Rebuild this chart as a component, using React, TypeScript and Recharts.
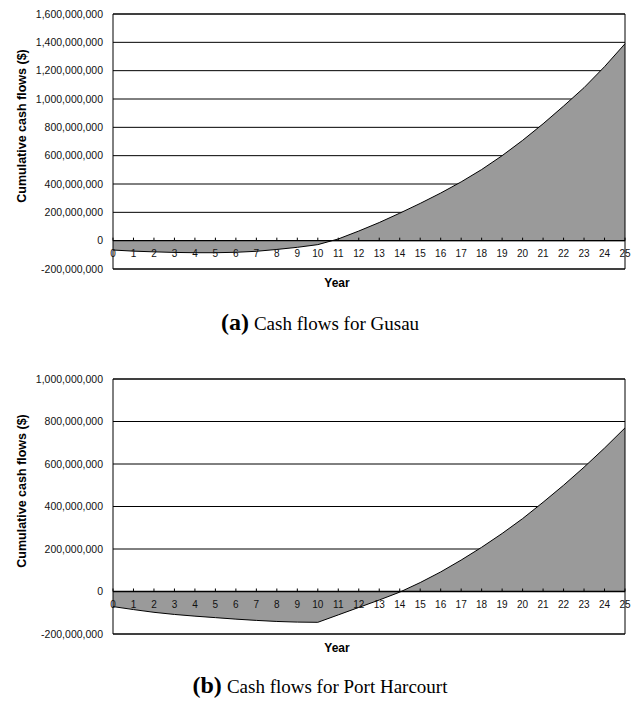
import React from 'react';
import { AreaChart, Area, XAxis, YAxis, CartesianGrid, ReferenceLine, ReferenceArea, Label } from 'recharts';

// ---- Data ----
const years = [0, 1, 2, 3, 4, 5, 6, 7, 8, 9, 10, 11, 12, 13, 14, 15, 16, 17, 18, 19, 20, 21, 22, 23, 24, 25];

const gusauCumulative = [
  -66000000, -74000000, -79000000, -83000000, -85000000, -85000000, -82000000, -75000000, -62000000, -47000000,
  -28000000, 12000000, 68000000, 128000000, 194000000, 263000000, 336000000, 415000000, 502000000, 600000000,
  708000000, 825000000, 950000000, 1080000000, 1228000000, 1390000000,
];

const portHarcourtCumulative = [
  -71000000, -85000000, -98000000, -108000000, -116000000, -123000000, -130000000, -136000000, -141000000, -144000000,
  -145000000, -110000000, -75000000, -40000000, -3000000, 42000000, 92000000, 148000000, 208000000, 273000000,
  343000000, 420000000, 500000000, 585000000, 675000000, 770000000,
];

const gusauYTicks = [-200000000, 0, 200000000, 400000000, 600000000, 800000000, 1000000000, 1200000000, 1400000000, 1600000000];
const portHarcourtYTicks = [-200000000, 0, 200000000, 400000000, 600000000, 800000000, 1000000000];

const yAxisTitle = 'Cumulative cash flows ($)';
const xAxisTitle = 'Year';
const captionTags = ['(a)', '(b)'];
const captionTexts = ['Cash flows for Gusau', 'Cash flows for Port Harcourt'];

// ---- Layout ----
const W = 637;
const H = 300;
const MARGIN = { top: 14, right: 12, bottom: 1, left: 8 };
const Y_AXIS_W = 105;
const X_AXIS_H = 30;
const PLOT_H = H - MARGIN.top - MARGIN.bottom - X_AXIS_H;
const SANS = '"Liberation Sans", Arial, sans-serif';
const SERIF = '"Liberation Serif", "Times New Roman", serif';

function makeXTick(yMin: number, yMax: number) {
  return (props: any) => {
    const { x, y, payload } = props;
    const zeroY = y - (PLOT_H * (0 - yMin)) / (yMax - yMin);
    return (
      <g>
        <line x1={x} x2={x} y1={zeroY} y2={zeroY - 3} stroke="#000" strokeWidth={1} />
        <text x={x} y={zeroY + 16} textAnchor="middle" fontSize={10} fontFamily={SANS} fill="#111">
          {payload.value}
        </text>
      </g>
    );
  };
}

const renderYTitle = (props: any) => {
  const vb = props.viewBox || {};
  const cx = 22;
  const cy = vb.y + vb.height / 2 - 15.5;
  return (
    <text
      x={cx}
      y={cy}
      transform={`rotate(-90 ${cx} ${cy})`}
      textAnchor="middle"
      dominantBaseline="central"
      fontSize={12.5}
      fontWeight="bold"
      fontFamily={SANS}
      fill="#000"
    >
      {yAxisTitle}
    </text>
  );
};

const renderXTitle = (props: any) => {
  const vb = props.viewBox || {};
  return (
    <text x={vb.x + 224} y={vb.y + 18} textAnchor="middle" fontSize={12} fontWeight="bold" fontFamily={SANS} fill="#000">
      {xAxisTitle}
    </text>
  );
};

function CashFlowChart({ values, yTicks }: { values: number[]; yTicks: number[] }) {
  const data = years.map((year, i) => ({ year, value: values[i] }));
  const yMin = yTicks[0];
  const yMax = yTicks[yTicks.length - 1];
  return (
    <AreaChart width={W} height={H} data={data} margin={MARGIN}>
      <CartesianGrid horizontal vertical={false} stroke="#000" strokeWidth={1} />
      <XAxis
        dataKey="year"
        type="number"
        domain={[years[0], years[years.length - 1]]}
        ticks={years}
        interval={0}
        height={X_AXIS_H}
        axisLine={false}
        tickLine={false}
        tickSize={0}
        tickMargin={0}
        tick={makeXTick(yMin, yMax)}
      >
        <Label content={renderXTitle} />
      </XAxis>
      <YAxis
        type="number"
        domain={[yMin, yMax]}
        ticks={yTicks}
        interval={0}
        width={Y_AXIS_W}
        axisLine={false}
        tickLine={false}
        tickSize={0}
        tickMargin={10}
        tick={{ fontSize: 10.5, fontFamily: SANS, fill: '#111' }}
        tickFormatter={(v: number) => v.toLocaleString('en-US')}
      >
        <Label content={renderYTitle} />
      </YAxis>
      <Area
        type="linear"
        dataKey="value"
        stroke="#000"
        strokeWidth={1}
        fill="#9a9a9a"
        fillOpacity={1}
        baseValue={0}
        dot={false}
        activeDot={false}
        isAnimationActive={false}
      />
      <ReferenceLine y={0} stroke="#000" strokeWidth={1.3} />
      <ReferenceArea
        x1={years[0]}
        x2={years[years.length - 1]}
        y1={yMin}
        y2={yMax}
        fill="none"
        stroke="#000"
        strokeWidth={1}
        ifOverflow="visible"
      />
    </AreaChart>
  );
}

export default function App() {
  return (
    <div style={{ position: 'absolute', left: 0, top: 0, width: W, height: 703, background: '#fff', overflow: 'hidden' }}>
      <div style={{ position: 'absolute', left: 0, top: 0 }}>
        <CashFlowChart values={gusauCumulative} yTicks={gusauYTicks} />
      </div>
      <div style={{ position: 'absolute', left: 0, top: 365 }}>
        <CashFlowChart values={portHarcourtCumulative} yTicks={portHarcourtYTicks} />
      </div>
      <svg width={W} height={703} style={{ position: 'absolute', left: 0, top: 0, pointerEvents: 'none' }}>
        <text x={320} y={329.5} textAnchor="middle" fontFamily={SERIF} fill="#000">
          <tspan fontWeight="bold" fontSize={24}>{captionTags[0]}</tspan>
          <tspan fontSize={19} dx={5}>{captionTexts[0]}</tspan>
        </text>
        <text x={320} y={693} textAnchor="middle" fontFamily={SERIF} fill="#000">
          <tspan fontWeight="bold" fontSize={24}>{captionTags[1]}</tspan>
          <tspan fontSize={19} dx={5}>{captionTexts[1]}</tspan>
        </text>
      </svg>
    </div>
  );
}
